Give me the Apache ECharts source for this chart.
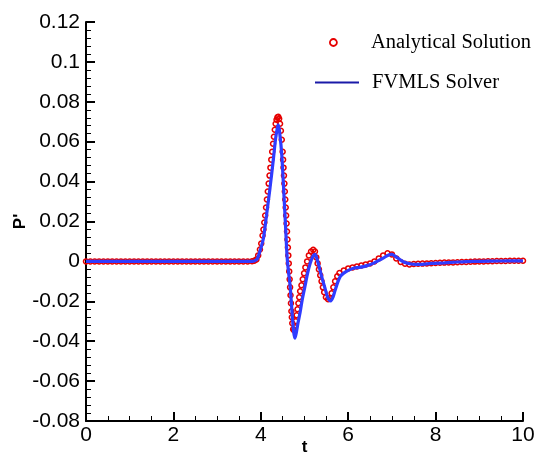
<!DOCTYPE html>
<html><head><meta charset="utf-8">
<script src="https://cdn.jsdelivr.net/npm/echarts@6/dist/echarts.min.js"></script>
<style>html,body{margin:0;padding:0;background:#fff}#c{width:535px;height:455px}</style>
</head><body><div id="c"></div>
<script>
// Analytical solution (red circles)
const anaT = [
0.0,0.1,0.2,0.3,0.4,0.5,0.6,0.7,0.8,0.9,1.0,1.1,1.2,1.3,1.4,1.5,1.6,1.7,1.8,1.9,
2.0,2.1,2.2,2.3,2.4,2.5,2.6,2.7,2.8,2.9,3.0,3.1,3.2,3.3,3.4,3.5,3.6,3.7,3.8,
3.85,3.9,3.94,3.98,4.01,4.04,4.06,4.08,4.10,4.12,4.14,4.16,4.18,4.20,4.22,4.24,4.26,4.28,4.30,4.32,4.34,4.36,4.38,4.40,
4.42,4.44,4.46,4.48,4.50,4.51,4.52,4.53,4.54,4.55,4.56,4.57,4.58,4.59,4.60,4.61,4.62,4.63,4.64,4.65,4.66,4.67,4.68,4.69,4.70,4.71,4.72,4.74,
4.76,4.78,4.80,4.82,4.84,4.86,4.88,4.90,4.93,4.96,4.99,5.02,5.06,5.10,5.15,5.20,5.24,5.27,5.30,5.33,5.36,5.39,5.42,5.45,5.49,5.54,
5.58,5.62,5.66,5.70,5.75,5.80,5.90,6.0,6.1,6.2,6.3,6.4,6.5,6.6,6.7,6.8,6.9,7.0,7.1,7.2,7.3,7.4,7.5,7.6,7.7,7.8,7.9,
8.0,8.1,8.2,8.3,8.4,8.5,8.6,8.7,8.8,8.9,9.0,9.1,9.2,9.3,9.4,9.5,9.6,9.7,9.8,9.9,10.0];
const anaP = [
0,0,0,0,0,0,0,0,0,0,0,0,0,0,0,0,0,0,0,0,
0,0,0,0,0,0,0,0,0,0,0,0,0,0,0,0,0,0,0.0001,
0.0003,0.001,0.003,0.006,0.009,0.013,0.016,0.0195,0.023,0.027,0.031,0.035,0.039,0.043,0.047,0.051,0.055,0.059,0.0625,0.066,0.069,0.071,0.0722,0.0725,
0.0715,0.069,0.0655,0.061,0.055,0.051,0.047,0.043,0.039,0.035,0.031,0.027,0.023,0.019,0.015,0.011,0.007,0.003,-0.001,-0.005,-0.009,-0.013,-0.017,-0.021,-0.025,-0.028,-0.031,-0.034,
-0.0345,-0.033,-0.030,-0.027,-0.024,-0.021,-0.018,-0.015,-0.012,-0.009,-0.006,-0.003,0.0,0.003,0.005,0.0058,0.005,0.002,-0.001,-0.004,-0.007,-0.010,-0.013,-0.0155,-0.018,-0.019,
-0.0185,-0.016,-0.013,-0.010,-0.0075,-0.0058,-0.0045,-0.0035,-0.003,-0.0025,-0.002,-0.0015,-0.001,0.0,0.0015,0.003,0.0041,0.0035,0.0015,-0.0003,-0.0012,-0.0015,-0.0013,-0.0012,-0.0011,-0.001,-0.0009,
-0.0008,-0.0007,-0.0006,-0.0005,-0.0005,-0.0004,-0.0003,-0.0003,-0.0002,-0.0001,0.0,0.0,0.0001,0.0001,0.0002,0.0002,0.0002,0.0003,0.0003,0.0003,0.0003];
// FVMLS solver (blue line)
const numT = [0,1,2,3,3.8,3.9,3.94,4.0,4.06,4.13,4.21,4.29,4.34,4.38,4.40,4.43,4.48,4.54,4.57,4.60,4.63,4.67,4.72,4.75,4.78,4.81,4.85,4.90,4.95,5.01,5.07,5.13,5.19,5.24,5.29,5.35,5.41,5.47,5.53,5.60,5.65,5.70,5.76,5.82,5.89,6.0,6.12,6.25,6.35,6.45,6.57,6.68,6.80,6.90,7.0,7.08,7.19,7.3,7.41,7.55,7.64,7.8,7.95,8.2,8.5,8.71,9.0,9.47,10];
const numP = [0,0,0,0,0,0.0008,0.0024,0.0065,0.0116,0.023,0.0367,0.0517,0.0618,0.067,0.0684,0.065,0.0534,0.029,0.016,0.003,-0.0045,-0.012,-0.027,-0.035,-0.0385,-0.036,-0.031,-0.0255,-0.019,-0.0126,-0.006,-0.001,0.0025,0.0035,0.001,-0.004,-0.009,-0.0135,-0.018,-0.0198,-0.018,-0.0145,-0.0105,-0.0075,-0.006,-0.0045,-0.0034,-0.003,-0.0026,-0.002,-0.001,0.0003,0.0016,0.003,0.0035,0.0025,0.0008,-0.0006,-0.0012,-0.0015,-0.0015,-0.0012,-0.001,-0.0007,-0.0003,-0.0001,0.0,0.0002,0.0003];
const xTicks = [0,2,4,6,8,10];
const yTicks = [-0.08,-0.06,-0.04,-0.02,0,0.02,0.04,0.06,0.08,0.1,0.12];

const chart = echarts.init(document.getElementById('c'), null, {renderer:'canvas'});
const lblFont = {color:'#000', fontSize:21, fontFamily:'Liberation Sans, Arial, sans-serif'};
const serif = 'Liberation Serif, Times New Roman, serif';
chart.setOption({
  animation:false,
  backgroundColor:'#fff',
  grid:{left:86, right:12, top:22, bottom:34, containLabel:false, outerBoundsMode:'none'},
  legend:[
    {data:[{name:'Analytical Solution', icon:'circle', itemStyle:{color:'rgba(0,0,0,0)', borderColor:'#e60000', borderWidth:1.8}}],
     orient:'vertical', left:329, top:32, padding:0, itemWidth:7, itemHeight:7,
     textStyle:{color:'#000', fontSize:20.5, fontFamily:serif, padding:[0,0,0,29]}},
    {data:[{name:'FVMLS Solver', icon:'rect', itemStyle:{color:'#1a1aa8', borderWidth:0}}],
     orient:'vertical', left:315, top:72, padding:0, itemWidth:44, itemHeight:2,
     textStyle:{color:'#000', fontSize:20.5, fontFamily:serif, padding:[0,0,0,8]}}
  ],
  xAxis:{type:'value', min:0, max:10, interval:2,
    name:'t', nameLocation:'middle', nameGap:18, nameMoveOverlap:false,
    nameTextStyle:{color:'#000', fontSize:17, fontWeight:'bold', fontFamily:'Liberation Sans, Arial, sans-serif', verticalAlign:'top'},
    axisLine:{onZero:false, lineStyle:{color:'#000', width:2}},
    axisTick:{inside:true, length:9, lineStyle:{color:'#000', width:2}},
    minorTick:{show:true, splitNumber:4, length:5, lineStyle:{color:'#000', width:1}},
    splitLine:{show:false},
    axisLabel:Object.assign({margin:4, formatter:v=>xTicks.includes(v)?String(v):''}, lblFont)
  },
  yAxis:{type:'value', min:-0.08, max:0.12, interval:0.02,
    name:"P'", nameLocation:'middle', nameGap:57, nameRotate:90, nameMoveOverlap:false,
    nameTextStyle:{color:'#000', fontSize:17, fontWeight:'bold', fontFamily:'Liberation Sans, Arial, sans-serif'},
    axisLine:{onZero:false, lineStyle:{color:'#000', width:2}},
    axisTick:{inside:true, length:9, lineStyle:{color:'#000', width:2}},
    minorTick:{show:true, splitNumber:5, length:5, lineStyle:{color:'#000', width:1}},
    splitLine:{show:false},
    axisLabel:Object.assign({margin:6, formatter:v=>{const r=Math.round(v*100)/100; return String(r);}}, lblFont)
  },
  series:[
    {name:'Analytical Solution', type:'line', data:anaT.map((t,i)=>[t,anaP[i]]),
     symbol:'circle', symbolSize:5, showSymbol:true, showAllSymbol:true,
     itemStyle:{color:'rgba(0,0,0,0)', borderColor:'#e60000', borderWidth:1.5},
     lineStyle:{width:0, opacity:0}, z:2},
    {name:'FVMLS Solver', type:'line', data:numT.map((t,i)=>[t,numP[i]]),
     symbol:'none', smooth:0.3, lineStyle:{color:'#2f3cff', width:3.2}, itemStyle:{color:'#2f3cff'}, z:3}
  ]
});
</script></body></html>
